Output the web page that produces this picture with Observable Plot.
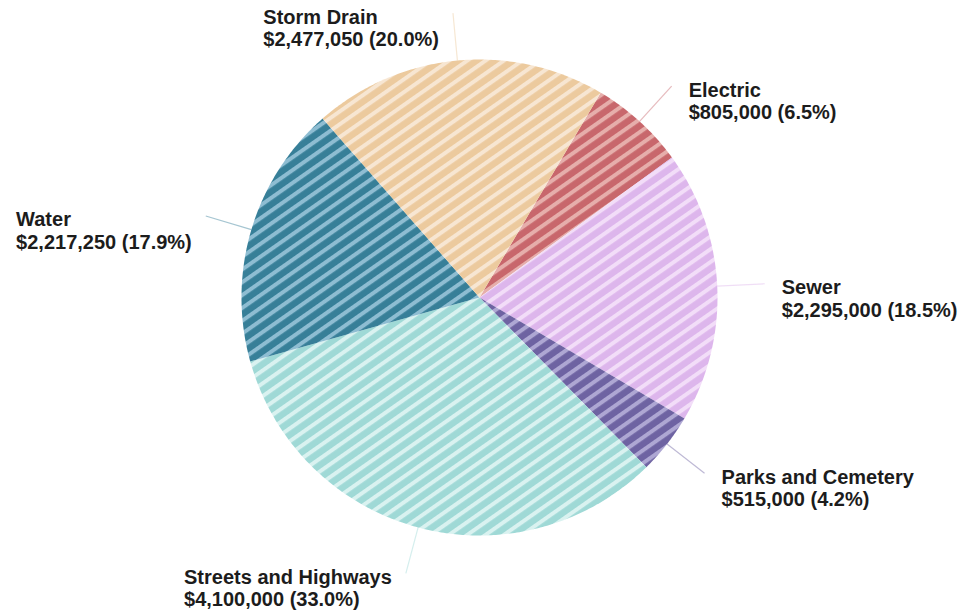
<!DOCTYPE html>
<html>
<head>
<meta charset="utf-8">
<script src="https://cdn.jsdelivr.net/npm/d3@7"></script>
<script src="https://cdn.jsdelivr.net/npm/@observablehq/plot@0.6"></script>
<style>
  html, body { margin: 0; padding: 0; background: #fff; }
  #chart svg { display: block; }
</style>
</head>
<body>
<div id="chart"></div>
<script>
// ---- data (clockwise order, starting near 1 o'clock) ----
const categories = ["Electric", "Sewer", "Parks and Cemetery", "Streets and Highways", "Water", "Storm Drain"];
const amounts = [805000, 2295000, 515000, 4100000, 2217250, 2477050];
const amountLabels = ["$805,000", "$2,295,000", "$515,000", "$4,100,000", "$2,217,250", "$2,477,050"];
const percentLabels = ["6.5%", "18.5%", "4.2%", "33.0%", "17.9%", "20.0%"];
const baseColors = ["#c8676c", "#ddb6ec", "#6e63a2", "#9fd9d6", "#377f98", "#ecca9e"];
const stripeColors = ["#e6aeab", "#f2ddf8", "#aea7d3", "#d9f2f0", "#8ebdd2", "#f7e6d2"];

// ---- layout ----
const W = 967, H = 610;
const CX = 479, CY = 297, R = 238;        // pixel centre & radius
const START = 30.6 * Math.PI / 180;        // start angle, clockwise from north
const LEADER_R = 1.2;                      // leader end radius (in pie radii)
const FONT = "bold 20px 'Liberation Sans', Arial, Helvetica, sans-serif";

const total = d3.sum(amounts);
const slices = [];
let a0 = START;
categories.forEach((name, i) => {
  const a1 = a0 + amounts[i] / total * 2 * Math.PI;
  slices.push({name, i, a0, a1, mid: (a0 + a1) / 2});
  a0 = a1;
});
const px = (a, r) => r * Math.sin(a);
const py = (a, r) => r * Math.cos(a);

// slice outlines (centre + arc)
const outline = [];
for (const s of slices) {
  outline.push({name: s.name, x: 0, y: 0});
  const n = Math.max(8, Math.ceil((s.a1 - s.a0) / 0.01));
  for (let k = 0; k <= n; ++k) {
    const a = s.a0 + (s.a1 - s.a0) * k / n;
    outline.push({name: s.name, x: px(a, 1), y: py(a, 1)});
  }
  outline.push({name: s.name, x: 0, y: 0});
}

// label measurement
const ctx = document.createElement("canvas").getContext("2d");
ctx.font = FONT;
const labels = slices.map(s => {
  const l1 = s.name;
  const l2 = `${amountLabels[s.i]} (${percentLabels[s.i]})`;
  const w = Math.max(ctx.measureText(l1).width, ctx.measureText(l2).width);
  const ex = px(s.mid, LEADER_R), ey = py(s.mid, LEADER_R);
  const right = Math.sin(s.mid) > 0;
  return {
    name: s.name,
    x1: px(s.mid, 1), y1: py(s.mid, 1), x2: ex, y2: ey,
    tx: right ? ex + 17 / R : ex - (14 + w) / R,
    ty: ey - 14.5 / R,
    text: l1 + "\n" + l2
  };
});

const chart = Plot.plot({
  width: W, height: H,
  margin: 0,
  x: {domain: [-CX / R, (W - CX) / R], axis: null},
  y: {domain: [-(H - CY) / R, CY / R], axis: null},
  color: {type: "ordinal", domain: categories, range: categories.map((_, i) => `url(#stripe-${i})`)},
  marks: [
    Plot.line(outline, {x: "x", y: "y", z: "name", fill: "name", stroke: null, curve: "linear"}),
    Plot.link(labels, {
      x1: "x1", y1: "y1", x2: "x2", y2: "y2",
      stroke: d => baseColors[categories.indexOf(d.name)],
      strokeOpacity: 0.45, strokeWidth: 1.2
    }),
    Plot.text(labels, {
      x: "tx", y: "ty", text: "text",
      textAnchor: "start", lineAnchor: "middle", lineHeight: 1.12,
      fontSize: 20, fontWeight: "bold",
      fontFamily: "'Liberation Sans', Arial, Helvetica, sans-serif",
      fill: "#1c1c1c"
    })
  ]
});

// stripe patterns
const ns = "http://www.w3.org/2000/svg";
const defs = document.createElementNS(ns, "defs");
const P = 10.5, T = 4;
categories.forEach((_, i) => {
  const p = document.createElementNS(ns, "pattern");
  p.setAttribute("id", `stripe-${i}`);
  p.setAttribute("patternUnits", "userSpaceOnUse");
  p.setAttribute("width", P);
  p.setAttribute("height", P);
  p.setAttribute("patternTransform", "rotate(-35)");
  const r1 = document.createElementNS(ns, "rect");
  r1.setAttribute("width", P); r1.setAttribute("height", P);
  r1.setAttribute("fill", baseColors[i]);
  const r2 = document.createElementNS(ns, "rect");
  r2.setAttribute("width", P); r2.setAttribute("height", T);
  r2.setAttribute("fill", stripeColors[i]);
  p.appendChild(r1); p.appendChild(r2);
  defs.appendChild(p);
});
chart.insertBefore(defs, chart.firstChild);
document.getElementById("chart").appendChild(chart);
</script>
</body>
</html>
